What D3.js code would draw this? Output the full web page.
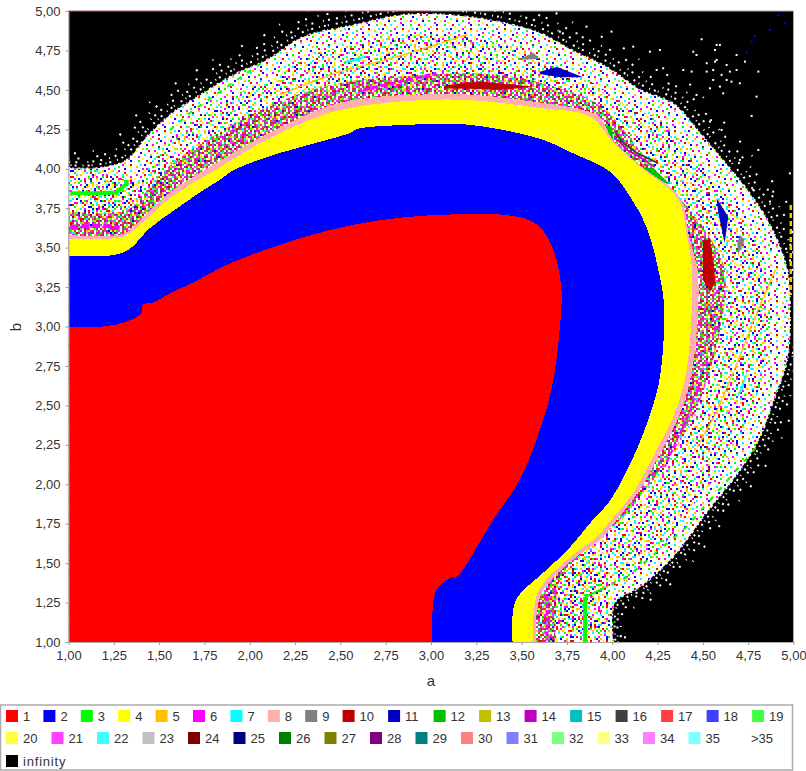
<!DOCTYPE html>
<html>
<head>
<meta charset="utf-8">
<script src="https://d3js.org/d3.v7.min.js"></script>
<style>
  html, body { margin: 0; background: #fff; }
  svg { display: block; }
  text { font-family: "Liberation Sans", sans-serif; font-size: 13px; fill: #333; }
</style>
</head>
<body>
<svg id="chart" width="806" height="771"></svg>
<script>
var periods = ['1','2','3','4','5','6','7','8','9','10','11','12','13','14','15','16','17','18','19',
               '20','21','22','23','24','25','26','27','28','29','30','31','32','33','34','35','>35','infinity'];
var periodColors = ['#ff0000','#0000ff','#00ff00','#ffff00','#ffc000','#ff00ff','#00ffff','#ffafaf','#808080','#c00000',
                    '#0000c0','#00c000','#c0c000','#c000c0','#00c0c0','#404040','#ff4040','#4040ff','#40ff40',
                    '#ffff40','#ff40ff','#40ffff','#c0c0c0','#800000','#000080','#008000','#808000','#800080','#008080',
                    '#ff8080','#8080ff','#80ff80','#ffff80','#ff80ff','#80ffff','#ffffff','#000000'];
var legendRows = [periods.slice(0, 19), periods.slice(19, 36), periods.slice(36)];
var tickValues = [1, 1.25, 1.5, 1.75, 2, 2.25, 2.5, 2.75, 3, 3.25, 3.5, 3.75, 4, 4.25, 4.5, 4.75, 5];

// region outlines in (a, b), each runs from the left axis to the bottom axis
var period1 = [[1,3],[1.19,3],[1.32,3.03],[1.405,3.09],[1.41,3.14],[1.465,3.15],[1.56,3.21],[1.69,3.28],[1.835,3.37],
  [2,3.45],[2.28,3.56],[2.55,3.64],[2.83,3.69],[3.105,3.71],[3.38,3.71],[3.55,3.67],[3.63,3.59],[3.685,3.45],[3.72,3.23],
  [3.71,2.98],[3.67,2.63],[3.6,2.34],[3.49,2.03],[3.34,1.77],[3.14,1.41],[3.115,1.41],[3.03,1.33],[3.01,1.22],[3.005,1]];
var period2 = [[1,3.447],[1.23,3.45],[1.33,3.485],[1.45,3.625],[1.6,3.75],[1.725,3.85],[1.835,3.93],[1.91,3.99],[2.11,4.08],[2.29,4.14],
  [2.57,4.235],[2.585,4.25],[2.9,4.28],[3.2,4.28],[3.6,4.19],[3.78,4.1],[3.99,3.98],[4.1,3.82],[4.19,3.63],[4.25,3.38],[4.285,3.15],
  [4.275,2.79],[4.245,2.58],[4.135,2.22],[3.99,1.9],[3.89,1.77],[3.75,1.58],[3.62,1.44],[3.475,1.28],[3.45,1.17],[3.45,1]];
var period4 = [[1,3.555],[1.3,3.57],[1.41,3.66],[1.56,3.815],[1.835,4.01],[2.11,4.195],[2.44,4.355],[2.66,4.405],[2.94,4.435],
  [3.215,4.435],[3.6,4.385],[3.88,4.33],[4.005,4.165],[4.155,4.01],[4.36,3.815],[4.41,3.59],[4.44,3.36],[4.44,3.15],[4.41,2.72],
  [4.345,2.45],[4.245,2.22],[4.115,1.945],[3.97,1.74],[3.915,1.665],[3.77,1.54],[3.6,1.34],[3.57,1.22],[3.56,1]];
var period8 = [[1,3.58],[1.31,3.59],[1.41,3.69],[1.56,3.85],[1.835,4.05],[2.11,4.23],[2.44,4.4],[2.66,4.45],[2.94,4.47],
  [3.215,4.47],[3.6,4.42],[3.85,4.37],[3.93,4.33],[4.005,4.18],[4.155,4.02],[4.375,3.815],[4.42,3.59],[4.47,3.36],[4.475,3.15],
  [4.44,2.72],[4.375,2.45],[4.275,2.22],[4.14,1.945],[4,1.74],[3.93,1.645],[3.78,1.52],[3.62,1.33],[3.585,1.2],[3.58,1]];
// edge of the speckled (chaotic) band and of its darker inner part
var speckleEdge = [[1,4.005],[1.17,4.005],[1.32,4.055],[1.43,4.2],[1.575,4.355],[1.71,4.455],[1.91,4.595],[2.095,4.69],[2.295,4.835],
  [2.57,4.91],[2.845,4.975],[3.105,4.975],[3.38,4.93],[3.6,4.86],[3.78,4.75],[3.97,4.645],[4.155,4.5],[4.335,4.415],[4.485,4.225],
  [4.61,4.055],[4.745,3.865],[4.87,3.645],[4.965,3.36],[4.98,3.105],[4.965,2.79],[4.885,2.515],[4.815,2.3],[4.705,2.09],[4.52,1.82],
  [4.335,1.54],[4.155,1.35],[4.015,1.25],[4.005,1]];
var innerEdge = [[1,3.73],[1.31,3.73],[1.41,3.83],[1.56,4.02],[1.835,4.23],[2.11,4.4],[2.44,4.53],[2.94,4.595],[3.38,4.595],[3.71,4.51],
  [3.93,4.4],[4.26,3.96],[4.51,3.61],[4.62,3.36],[4.595,2.98],[4.485,2.535],[4.375,2.28],[4.265,2.09],[4.04,1.77],[3.82,1.55],[3.71,1.39],[3.685,1]];
// parts of the band that are more crowded with colours
var crowdedLeft = [[1,3.55],[1,4],[1.18,4],[1.32,3.98],[1.42,3.85],[1.6,4.05],[1.5,3.6]];
var crowdedBottom = [[3.55,1],[3.55,1.5],[3.75,1.62],[3.95,1.5],[4.005,1.25],[4.005,1]];

// small islands inside the band: period key, outline
var islands = [
  ['12', [[3.89,4.31],[4,4.26],[4.005,4.175],[3.93,4.26]]],
  ['12', [[4.155,4.01],[4.225,4.005],[4.32,3.9],[4.21,3.94]]],
  ['10', [[3.08,4.53],[3.27,4.555],[3.38,4.54],[3.575,4.52],[3.38,4.5],[3.27,4.505],[3.08,4.51]]],
  ['7',  [[2.515,4.68],[2.645,4.72],[2.61,4.69],[2.54,4.67]]],
  ['9',  [[3.475,4.69],[3.565,4.735],[3.6,4.695]]],
  ['11', [[3.6,4.615],[3.695,4.645],[3.84,4.58],[3.71,4.58],[3.6,4.6]]],
  ['11', [[4.575,3.815],[4.64,3.695],[4.62,3.53],[4.585,3.72]]],
  ['9',  [[4.705,3.58],[4.73,3.55],[4.695,3.455],[4.69,3.53]]],
  ['10', [[4.5,3.55],[4.54,3.55],[4.57,3.28],[4.54,3.22],[4.5,3.295]]],
  ['7',  [[4.75,2.74],[4.705,2.6],[4.68,2.535],[4.72,2.6]]]
];
// thin curves: period key, thickness, dash, points
var streaks = [
  ['5', 1.5, '9 1', [[2.165,4.47],[2.48,4.61],[2.845,4.72],[3.2,4.85]]],
  ['5', 1.5, '9 1', [[4.9,3.36],[4.78,3.04],[4.69,2.77],[4.58,2.47],[4.47,2.235]]],
  ['5', 2.5, '5 3', [[4.985,3.77],[4.985,3.2]]],
  ['16', 2, null, [[4.015,4.235],[4.06,4.165],[4.135,4.1],[4.245,4.04]]],
  ['14', 1.5, null, [[4.015,4.2],[4.08,4.12],[4.155,4.07],[4.235,4.01]]],
  ['6', 2, '6 2', [[4.485,2.64],[4.43,2.47],[4.29,2.11]]],
  ['6', 3, '5 2', [[3.64,1.29],[3.64,1.01]]],
  ['6', 3, '6 3', [[2.625,4.5],[3.03,4.605]]],
  ['6', 4, '8 3', [[1.01,3.63],[1.17,3.64],[1.28,3.63]]],
  ['3', 4, null, [[1.01,3.845],[1.135,3.845],[1.265,3.85],[1.33,3.915]]],
  ['3', 2, '5 7', [[1.56,4.245],[1.67,4.355],[1.875,4.52],[2.07,4.675]]],
  ['3', 4, null, [[3.85,1],[3.85,1.285]]],
  ['3', 2, null, [[3.85,1.285],[3.93,1.33]]],
  ['3', 2, '5 8', [[3.93,1.33],[4.08,1.41],[4.41,1.73],[4.815,2.26]]]
];
var strayWhite = [[4.493,4.821],[4.576,4.785],[4.594,4.785],[4.567,4.753],[4.447,4.742],[4.465,4.721],[4.576,4.69],[4.521,4.669],[4.567,4.679],
  [4.631,4.658],[4.686,4.721],[4.732,4.679],[4.521,4.616],[4.557,4.626],[4.603,4.595],[4.649,4.616],[4.686,4.626],[4.392,4.626],[4.438,4.616],
  [4.465,4.468],[4.539,4.51],[4.594,4.521],[4.612,4.478],[4.658,4.552],[4.704,4.542],[4.806,4.616],[4.796,4.457],[4.769,4.335],[4.245,4.626],
  [4.281,4.637],[4.263,4.753],[4.208,4.742],[4.116,4.774],[3.996,4.869],[3.858,4.901],[3.803,4.859],[3.711,4.869],[4.539,4.299],[4.603,4.246],
  [4.704,4.056],[4.806,4.119],[4.98,3.971],[4.888,3.855],[4.87,3.792],[4.815,3.718],[4.778,3.866],[4.557,4.563],[4.631,4.563]];
var strayBlue = [[4.916,4.975],[4.953,4.922],[4.87,4.88],[4.787,4.842],[4.769,4.806],[4.741,4.736]];

// the speckle itself is a repeating hand-drawn texture, it is not data
var speckleKeys = {y:'4', o:'5', m:'6', c:'7', b:'2', g:'3', r:'1', k:'16', p:'8', d:'10', v:'14'};
var tileA = [
".b..y...m.....c..","...g...o...r....y","m.....c.....b....","..r.y.....g...m..",".....b..m.....o..",".c......y..k.....",
"...o.g.....c...b.","y.....r..m.......","..b.......y...g..","....c..o.....r...",".m.....b..g.....y","...y.........m...",
".g...r..c.....b..","......y....o.....","..c.b.....m...r..","o.......g.....y..","...m..c....b....."];
var tileB = [
"..p....c..y.....g...b..","y....m.....b..r.....o..","...g.....o.......c.....",".b....y.....m..g.....r.","....c....r.......y.....",
"m.......b...c.....o..g.","...o..g.....y..b.......",".r.......m........c..y.","....b.y....g..o.....m..","..c.......r.....b......",
"g....o..c.....y....r...","...m......b.g.....c...b",".y....r.......m.o......","....g...y.c........b.r.","b.......o....r...y.....",
"..c.m.......g.....m..o.",".....b..r.....c.......y","y.o.....g..b....o..g...","...r..c.......y.....b..",".m.....y..o.m....c.....",
"....g.......b..r.....y.","..b...m.c.......g.o....","o.....r....y.c.....m..."];
var tileC = [
"mdg.kvr.ygm.dov.gkm",".gm.dy.mv.gr.dmk.yd","dv.gmo.kd.m.gv.rm.g","g.rmd.vg.ym.dk.g.mv","m.kd.gm.rdv.mg.oy.d",
".ydm.g.vm.kg.dm.r.g","vg.m.dr.gm.y.dvg.mk","d.mg.kv.d.mgo.r.mdy","gm.vd.y.mg.d.kvm.g.",".dk.mg.rd.vm.g.dy.m",
"rm.gd.mv.kg.md.g.vd","g.ymd.g.m.dv.rgm.k.","dv.k.gmd.y.mg.d.vmg",".mg.rd.vgm.kd.ym.d.","ym.dg.k.md.g.vrm.g.",
"g.dm.vy.g.dmk.d.gvm","m.g.rdm.vg.d.ymg.d.","kd.vm.g.dr.mg.v.dmy",".gm.d.ymk.gd.m.rg.d"];

var color = d3.scaleOrdinal().domain(periods).range(periodColors);
var margin = {top: 11, left: 68.5, bottom: 642, right: 793.5};
var xScale = d3.scaleLinear().domain([1, 5]).range([margin.left, margin.right]);
var yScale = d3.scaleLinear().domain([1, 5]).range([margin.bottom, margin.top]);
var line = d3.line().x(d => xScale(d[0])).y(d => yScale(d[1]));
var smooth = d3.line().curve(d3.curveCatmullRom.alpha(0.5)).x(d => xScale(d[0])).y(d => yScale(d[1]));
var commaFormat = d => d3.format(".2f")(d).replace(".", ",");
// smooth outline closed through the lower left corner of the plot
var area = pts => smooth(pts) + `L${xScale(1)},${yScale(1)}Z`;
// pushes the band edge away from the middle of the curve, to get its frayed rings
var edgeAt = k => speckleEdge.map(d => [2.8 + (d[0] - 2.8) * k, 2.4 + (d[1] - 2.4) * k]);

var svg = d3.select("#chart");
var defs = svg.append("defs");
defs.append("clipPath").attr("id", "plotClip").append("rect")
    .attr("x", margin.left).attr("y", margin.top)
    .attr("width", margin.right - margin.left).attr("height", margin.bottom - margin.top);

function addTile(id, rows, turn) {
    var cell = 2, cells = [];
    rows.forEach((row, j) => row.split("").forEach((ch, i) => { if (ch != ".") cells.push({i: i, j: j, ch: ch}); }));
    defs.append("pattern").attr("id", id).attr("patternUnits", "userSpaceOnUse")
        .attr("patternTransform", turn ? "rotate(90)" : null)
        .attr("width", rows[0].length * cell).attr("height", rows.length * cell)
        .selectAll("rect").data(cells).join("rect")
        .attr("x", d => d.i * cell).attr("y", d => d.j * cell)
        .attr("width", cell).attr("height", cell)
        .attr("fill", d => color(speckleKeys[d.ch]));
}
addTile("tileA", tileA);
addTile("tileB", tileB);
addTile("tileC", tileC);
addTile("tileD", tileB, true);

var plot = svg.append("g").attr("clip-path", "url(#plotClip)");
plot.append("path").attr("d", line([[1,1],[1,5],[5,5],[5,1]]) + "Z").attr("fill", color("infinity"));

// frayed outer rings of the band
plot.selectAll("path.fray")
    .data([[1, "2 2 1 4 3 2 1 3 2 5 1 1 2 3"], [1.012, "2 4 1 3 2 6 1 4 2 2 1 7"], [1.025, "2 7 1 5 2 10 1 4 2 6"],
           [1.04, "2 11 1 8 2 17 2 6"], [1.06, "2 23 2 17 1 31"]])
    .join("path").attr("class", "fray")
    .attr("d", d => smooth(edgeAt(d[0])))
    .attr("fill", "none").attr("stroke", "#fff").attr("stroke-width", 2)
    .attr("stroke-dasharray", d => d[1]);

// speckled band
plot.append("path").attr("d", area(speckleEdge)).attr("fill", "#fff");
plot.append("path").attr("d", area(speckleEdge)).attr("fill", "url(#tileA)");
plot.append("path").attr("d", area(edgeAt(0.95))).attr("fill", "url(#tileB)");
plot.selectAll("path.crowded")
    .data([crowdedLeft, crowdedBottom])
    .join("path").attr("class", "crowded")
    .attr("d", d => line(d) + "Z").attr("fill", "url(#tileD)");
plot.append("path").attr("d", area(innerEdge)).attr("fill", "url(#tileC)").attr("fill-opacity", 0.8);

plot.selectAll("path.island")
    .data(islands)
    .join("path").attr("class", "island")
    .attr("d", d => line(d[1]) + "Z")
    .attr("fill", d => color(d[0]));
plot.selectAll("path.streak")
    .data(streaks)
    .join("path").attr("class", "streak")
    .attr("d", d => line(d[3]))
    .attr("fill", "none")
    .attr("stroke", d => color(d[0]))
    .attr("stroke-width", d => d[1])
    .attr("stroke-dasharray", d => d[2]);

plot.selectAll("rect.stray")
    .data(strayWhite.map(d => [d, "#ffffff"]).concat(strayBlue.map(d => [d, color("2")])))
    .join("rect").attr("class", "stray")
    .attr("x", d => xScale(d[0][0]) - 1).attr("y", d => yScale(d[0][1]) - 1)
    .attr("width", 2).attr("height", 2)
    .attr("fill", d => d[1]);

// solid regions, outermost first
plot.selectAll("path.region")
    .data([['8', period8], ['4', period4], ['2', period2], ['1', period1]])
    .join("path").attr("class", "region")
    .attr("d", d => area(d[1]))
    .attr("fill", d => color(d[0]))
    .attr("shape-rendering", "crispEdges");

// axes
var xAxis = d3.axisBottom(xScale).tickValues(tickValues).tickFormat(commaFormat).tickSize(3).tickSizeOuter(0);
var yAxis = d3.axisLeft(yScale).tickValues(tickValues).tickFormat(commaFormat).tickSize(3).tickSizeOuter(0);
var gx = svg.append("g").attr("transform", `translate(0,${margin.bottom})`).call(xAxis);
var gy = svg.append("g").attr("transform", `translate(${margin.left},0)`).call(yAxis);
[gx, gy].forEach(g => {
    g.selectAll("line").attr("stroke", "#999");
    g.select(".domain").attr("stroke", "#aaa").attr("stroke-width", 1);
    g.selectAll("text").attr("fill", "#333").style("font-size", "13px").style("font-family", '"Liberation Sans", sans-serif');
});
gx.selectAll("text").attr("dy", "0.9em");
gy.selectAll("text").attr("x", -8);
svg.append("line").attr("x1", margin.right).attr("x2", margin.right)
    .attr("y1", margin.top).attr("y2", margin.bottom).attr("stroke", "#aaa");
svg.append("line").attr("x1", margin.left).attr("x2", xScale(3))
    .attr("y1", margin.top).attr("y2", margin.top).attr("stroke", "#c06060");
svg.append("line").attr("x1", xScale(3)).attr("x2", margin.right)
    .attr("y1", margin.top).attr("y2", margin.top).attr("stroke", "#aaa");

svg.append("text").attr("x", (margin.left + margin.right) / 2).attr("y", 686).attr("text-anchor", "middle").style("font-size", "15px").text("a");
svg.append("text").attr("transform", "translate(21,327) rotate(-90)").attr("text-anchor", "middle").style("font-size", "15px").text("b");

// legend
var legend = svg.append("g");
legend.append("rect").attr("x", 0.5).attr("y", 705).attr("width", 792).attr("height", 65)
    .attr("fill", "#fff").attr("stroke", "#aaa").attr("stroke-width", 1.5);
var rowY = [716, 738, 761];
legendRows.forEach((row, r) => {
    var xpos = 6;
    row.forEach(p => {
        var item = legend.append("g").attr("transform", `translate(${xpos},${rowY[r]})`);
        if (p != ">35") {
            item.append("rect").attr("x", 0).attr("y", -6).attr("width", 12).attr("height", 12).attr("fill", color(p));
        }
        item.append("text").attr("x", 17).attr("y", 0).attr("dy", "0.36em").attr("fill", "#222")
            .style("letter-spacing", p == "infinity" ? "0.8px" : null).text(p);
        xpos += p.length == 1 ? 37.4 : 45.5;
    });
});
</script>
</body>
</html>
